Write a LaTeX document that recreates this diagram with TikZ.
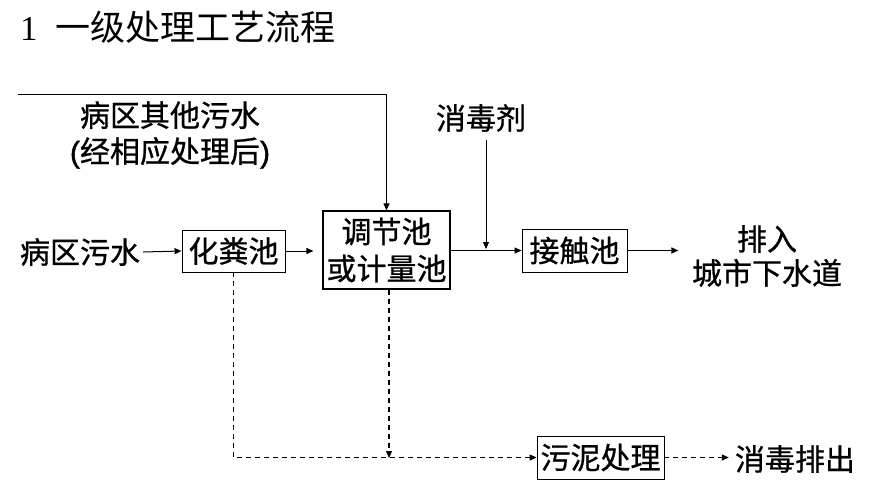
\documentclass[tikz,border=0pt]{standalone}
\usepackage{fontspec}
\setmainfont[FakeBold=0.8,AutoFakeBold=0.8]{Noto Sans CJK SC}
\newfontfamily\titlefont{Noto Sans CJK SC}
\newfontfamily\latinserif{Liberation Serif}
\newfontfamily\latinbold[FakeBold=1.5]{Liberation Sans}
\usetikzlibrary{arrows.meta,calc}
\begin{document}
\begin{tikzpicture}[x=1pt,y=-1pt,
  lbl/.style={inner sep=0pt,font=\fontsize{30}{36}\selectfont,align=center},
  box/.style={draw,line width=0.9pt,inner sep=0pt,font=\fontsize{30}{37}\selectfont,align=center},
  flow/.style={line width=1pt,-{Triangle[length=7pt,width=6pt]}},
  dflow/.style={line width=1.1pt,dash pattern=on 5pt off 4pt,-{Triangle[length=7pt,width=6pt]}}]
\useasboundingbox (0,0) rectangle (882,487);
% title
\node[anchor=west,inner sep=0pt,font=\titlefont\fontsize{35}{40}\selectfont] (title) at (20,27) {{\latinserif 1}\hspace{18pt}一级处理工艺流程};
% labels
\node[lbl] (other) at (170,135) {病区其他污水\\{\latinbold (}经相应处理后{\latinbold )}};
\node[lbl] (xdj) at (481,118) {消毒剂};
\node[lbl] (bq) at (80,252) {病区污水};
\node[lbl,font=\fontsize{30}{34}\selectfont] (out) at (767,256) {排入\\城市下水道};
\node[lbl] (xdpc) at (795,459) {消毒排出};
% boxes
\node[box,minimum width=103pt,minimum height=42pt] (hfc) at (233.5,251) {化粪池};
\node[box,minimum width=127pt,minimum height=78pt,line width=1.2pt] (tjc) at (386.5,250) {调节池\\或计量池};
\node[box,minimum width=105pt,minimum height=43pt] (jcc) at (574.5,250.5) {接触池};
\node[box,minimum width=127pt,minimum height=43pt] (wn) at (600.5,457.5) {污泥处理};
% coordinates
\coordinate (topstart) at (18,94);
\coordinate (junc) at (486,251);
\coordinate (sludge) at (389,458);
% connectors
\draw[flow] (topstart) -| (tjc.north);
\draw[flow] (bq.east) ++(3,0) -- (hfc.west);
\draw[flow,shorten >=9pt] (hfc.east) -- (tjc.west |- hfc.east);
\draw[flow] (tjc.east |- jcc.west) -- (jcc.west);
\draw[flow,shorten >=2pt] (xdj.south) ++(5,8) -- (junc);
\draw[flow] (jcc.east) -- ++(51,0) coordinate (outtip);
\draw[dflow] (hfc.south) -- (hfc.south |- wn.west) -- (wn.west);
\draw[dflow] (tjc.south -| sludge) -- (sludge);
\draw[dflow] (wn.east) -- ($(xdpc.west)+(-6,-1.5)$);
\end{tikzpicture}
\end{document}
